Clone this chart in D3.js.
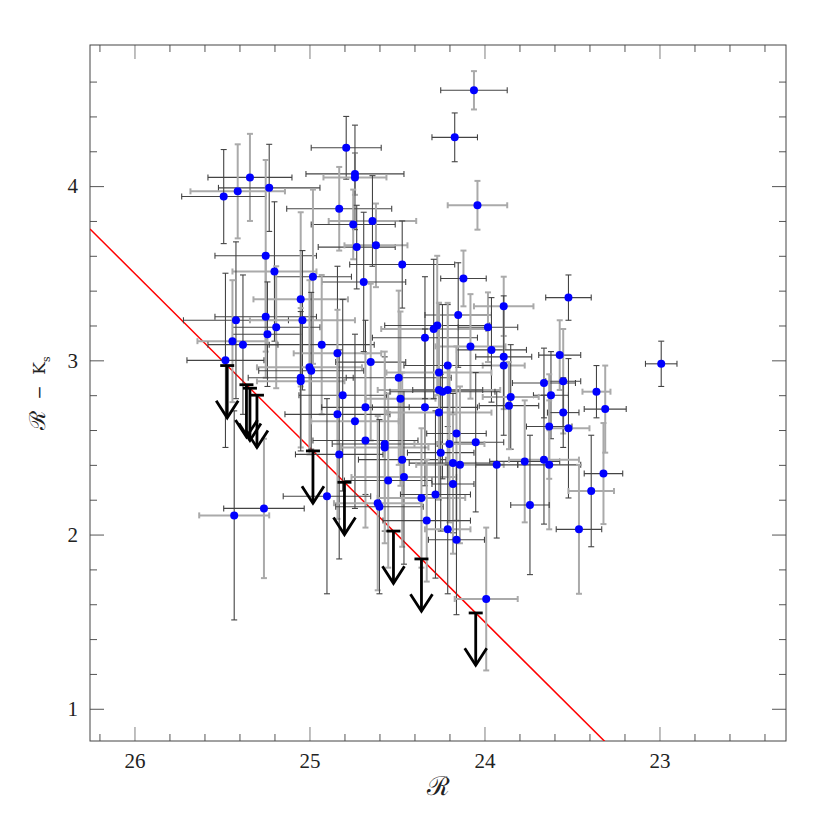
<!DOCTYPE html>
<html>
<head>
<meta charset="utf-8">
<title>R - Ks colour magnitude</title>
<style>
    body { margin: 0; background: #fff; }
    .axis path { display: none; }
    .axis line { stroke: #555; stroke-width: 1px; }
    .axis.light line { stroke: #aaa; stroke-width: 1.5px; }
    .axis text { font-family: 'Liberation Serif', 'DejaVu Serif', serif; font-size: 21px; fill: #222; }
    .title { font-family: 'DejaVu Serif', serif; fill: #222; }
</style>
</head>
<body>
<script src="https://d3js.org/d3.v7.min.js"></script>
<script type="text/javascript">

// detections: R magnitude, R-Ks colour, and their errors
var rMag = [24.06, 24.17, 24.04, 24.79, 24.74, 24.74, 25.34, 25.23, 25.41, 25.49,
            24.83, 24.64, 24.75, 24.73, 24.62, 24.47, 25.25, 25.20, 24.98, 24.69,
            25.05, 25.42, 25.25, 25.04, 25.19, 25.24, 25.44, 25.38, 24.93, 24.84,
            24.65, 25.48, 25.00, 24.99, 25.05, 25.05, 24.49, 24.81, 24.48, 24.68,
            24.84, 24.74, 24.68, 24.57, 24.57, 24.83, 24.47, 24.46, 24.55, 24.90,
            24.61, 24.60, 25.26, 25.43, 24.12, 23.52, 23.89, 24.15, 24.27, 24.29,
            23.98, 24.34, 24.08, 23.96, 23.89, 23.89, 23.57, 24.21, 24.26, 23.66,
            23.55, 23.36, 23.31, 23.62, 24.26, 24.24, 24.21, 23.85, 23.86, 24.34,
            24.26, 23.55, 23.63, 23.52, 24.16, 24.05, 24.20, 24.25, 23.77, 23.66,
            23.63, 24.18, 24.14, 23.93, 23.32, 23.39, 24.18, 24.28, 24.36, 23.74,
            24.33, 24.21, 23.46, 24.16, 23.99, 22.99];
var rkCol = [4.55, 4.28, 3.89, 4.22, 4.07, 4.05, 4.05, 3.99, 3.97, 3.94,
             3.87, 3.80, 3.78, 3.65, 3.66, 3.55, 3.60, 3.51, 3.48, 3.45,
             3.35, 3.23, 3.25, 3.23, 3.19, 3.15, 3.11, 3.09, 3.09, 3.04,
             2.99, 3.00, 2.96, 2.94, 2.90, 2.88, 2.90, 2.80, 2.78, 2.73,
             2.69, 2.65, 2.54, 2.52, 2.50, 2.46, 2.43, 2.33, 2.31, 2.22,
             2.18, 2.16, 2.15, 2.11, 3.47, 3.36, 3.31, 3.26, 3.20, 3.18,
             3.19, 3.13, 3.08, 3.06, 3.02, 2.97, 3.03, 2.97, 2.93, 2.87,
             2.88, 2.82, 2.72, 2.80, 2.83, 2.82, 2.83, 2.79, 2.74, 2.73,
             2.70, 2.70, 2.62, 2.61, 2.58, 2.53, 2.52, 2.47, 2.42, 2.43,
             2.40, 2.41, 2.40, 2.40, 2.35, 2.25, 2.29, 2.23, 2.21, 2.17,
             2.08, 2.03, 2.03, 1.97, 1.63, 2.98];
var rErr = [0.19, 0.13, 0.17, 0.20, 0.28, 0.18, 0.24, 0.29, 0.27, 0.24,
            0.30, 0.25, 0.24, 0.22, 0.18, 0.30, 0.29, 0.24, 0.22, 0.24,
            0.27, 0.30, 0.29, 0.30, 0.25, 0.20, 0.20, 0.20, 0.30, 0.25,
            0.20, 0.22, 0.30, 0.30, 0.30, 0.25, 0.30, 0.25, 0.20, 0.25,
            0.30, 0.25, 0.30, 0.30, 0.25, 0.25, 0.25, 0.30, 0.25, 0.25,
            0.25, 0.25, 0.23, 0.20, 0.13, 0.13, 0.17, 0.19, 0.30, 0.30,
            0.17, 0.30, 0.20, 0.20, 0.16, 0.12, 0.12, 0.25, 0.30, 0.18,
            0.10, 0.08, 0.12, 0.10, 0.35, 0.30, 0.20, 0.16, 0.17, 0.30,
            0.30, 0.09, 0.13, 0.12, 0.17, 0.16, 0.20, 0.19, 0.20, 0.20,
            0.18, 0.25, 0.25, 0.12, 0.11, 0.13, 0.12, 0.20, 0.25, 0.11,
            0.25, 0.13, 0.13, 0.16, 0.18, 0.09];
var colErr = [0.11, 0.14, 0.14, 0.18, 0.12, 0.30, 0.25, 0.25, 0.27, 0.27,
              0.24, 0.26, 0.20, 0.24, 0.24, 0.25, 0.55, 0.40, 0.50, 0.40,
              0.50, 0.45, 0.35, 0.40, 0.35, 0.30, 0.35, 0.40, 0.40, 0.50,
              0.45, 0.50, 0.50, 0.45, 0.40, 0.40, 0.50, 0.55, 0.50, 0.50,
              0.60, 0.50, 0.50, 0.50, 0.55, 0.60, 0.50, 0.50, 0.50, 0.56,
              0.50, 0.50, 0.40, 0.60, 0.16, 0.13, 0.17, 0.30, 0.40, 0.40,
              0.20, 0.35, 0.30, 0.30, 0.30, 0.40, 0.20, 0.35, 0.40, 0.20,
              0.30, 0.15, 0.25, 0.25, 0.50, 0.50, 0.50, 0.30, 0.25, 0.45,
              0.50, 0.20, 0.30, 0.40, 0.50, 0.40, 0.45, 0.45, 0.35, 0.37,
              0.37, 0.40, 0.45, 0.42, 0.29, 0.32, 0.40, 0.48, 0.40, 0.40,
              0.35, 0.37, 0.37, 0.43, 0.41, 0.13];

// Ks non-detections (upper limits on colour)
var limMag = [25.47, 25.36, 25.34, 25.30, 24.98, 24.80, 24.52, 24.36, 24.05];
var limCol = [2.97, 2.86, 2.84, 2.80, 2.48, 2.30, 2.02, 1.86, 1.55];
var limLen = 0.3;

// Ks detection limit line: R - Ks = R - 22.5
var ksLimit = 22.5;

var xTicks = [26, 25, 24, 23];
var yTicks = [1, 2, 3, 4];

var margin = {top: 45, right: 44, bottom: 89, left: 90},
    width  = 830 - margin.left - margin.right,
    height = 830 - margin.top - margin.bottom;

var x = d3.scaleLinear().domain([26.254, 22.277]).range([0, width]);
var y = d3.scaleLinear().domain([0.815, 4.81]).range([height, 0]);

var xMinor = d3.range(22.4, 26.21, 0.2).filter(function(v) { return Math.abs(v - Math.round(v)) > 0.01; });
var yMinor = d3.range(1.2, 4.79, 0.2).filter(function(v) { return Math.abs(v - Math.round(v)) > 0.01; });

var svg = d3.select("body")
    .append("svg")
    .attr("width", 830)
    .attr("height", 830);

var chart = svg.append("g")
    .attr("transform", "translate(" + margin.left + "," + margin.top + ")");

chart.append("clipPath")
    .attr("id", "plotClip")
    .append("rect")
    .attr("width", width)
    .attr("height", height);

// axes, ticks pointing inwards on all four sides
function addAxis(axis, tr, values, size, labels, cls) {
    return chart.append("g")
        .attr("class", "axis " + (cls || ""))
        .attr("transform", tr)
        .call(axis.tickValues(values).tickSizeInner(-size).tickSizeOuter(0)
              .tickPadding(labels ? 12 : 0)
              .tickFormat(labels ? d3.format("d") : ""));
}

addAxis(d3.axisBottom(x), "translate(0," + height + ")", xTicks, 14, true, "light");
addAxis(d3.axisBottom(x), "translate(0," + height + ")", xMinor, 7, false);
addAxis(d3.axisTop(x), "translate(0,0)", xTicks, 14, false, "light");
addAxis(d3.axisTop(x), "translate(0,0)", xMinor, 7, false);
addAxis(d3.axisLeft(y), "translate(0,0)", yTicks, 14, true);
addAxis(d3.axisLeft(y), "translate(0,0)", yMinor, 7, false);
addAxis(d3.axisRight(y), "translate(" + width + ",0)", yTicks, 14, false);
addAxis(d3.axisRight(y), "translate(" + width + ",0)", yMinor, 7, false);

chart.append("rect")
    .attr("width", width)
    .attr("height", height)
    .attr("fill", "none")
    .attr("stroke", "#444")
    .attr("stroke-width", 1);

var plot = chart.append("g").attr("clip-path", "url(#plotClip)");

// detection limit line
var lineR = [x.domain()[0], x.domain()[1]];
plot.append("line")
    .attr("x1", x(lineR[0])).attr("y1", y(lineR[0] - ksLimit))
    .attr("x2", x(lineR[1])).attr("y2", y(lineR[1] - ksLimit))
    .attr("stroke", "red")
    .attr("stroke-width", 1.5);

// error bars
var cap = 3;
var idx = d3.range(rMag.length);
var bars = plot.append("g");

idx.forEach(function(i) {
    var cx = x(rMag[i]), cy = y(rkCol[i]);
    var xl = x(rMag[i] + rErr[i]), xr = x(rMag[i] - rErr[i]);
    var yt = y(rkCol[i] + colErr[i]), yb = y(rkCol[i] - colErr[i]);
    var xs = (i % 3 === 2) ? {c: "#aaa", w: 2} : {c: "#444", w: 1.1};
    var ys = (i % 2 === 0) ? {c: "#aaa", w: 2} : {c: "#444", w: 1.1};
    var gx = bars.append("g").attr("stroke", xs.c).attr("stroke-width", xs.w);
    gx.append("line").attr("x1", xl).attr("x2", xr).attr("y1", cy).attr("y2", cy);
    gx.append("line").attr("x1", xl).attr("x2", xl).attr("y1", cy - cap).attr("y2", cy + cap);
    gx.append("line").attr("x1", xr).attr("x2", xr).attr("y1", cy - cap).attr("y2", cy + cap);
    var gy = bars.append("g").attr("stroke", ys.c).attr("stroke-width", ys.w);
    gy.append("line").attr("x1", cx).attr("x2", cx).attr("y1", yt).attr("y2", yb);
    gy.append("line").attr("x1", cx - cap).attr("x2", cx + cap).attr("y1", yt).attr("y2", yt);
    gy.append("line").attr("x1", cx - cap).attr("x2", cx + cap).attr("y1", yb).attr("y2", yb);
});

// points
plot.append("g")
    .selectAll("circle")
    .data(idx)
    .enter()
    .append("circle")
    .attr("cx", function(i) { return x(rMag[i]); })
    .attr("cy", function(i) { return y(rkCol[i]); })
    .attr("r", 4)
    .attr("fill", "blue");

// upper limit arrows
var arrows = plot.append("g")
    .attr("stroke", "black")
    .attr("stroke-width", 2.8)
    .attr("fill", "none");

limMag.forEach(function(m, i) {
    var ax = x(m), top = y(limCol[i]), tip = y(limCol[i] - limLen);
    arrows.append("line").attr("x1", ax - 7).attr("x2", ax + 7).attr("y1", top).attr("y2", top);
    arrows.append("line").attr("x1", ax).attr("x2", ax).attr("y1", top).attr("y2", tip);
    arrows.append("path")
        .attr("d", "M" + (ax - 11) + "," + (tip - 17) + "L" + ax + "," + tip + "L" + (ax + 11) + "," + (tip - 17));
});

// axis titles
svg.append("text")
    .attr("class", "title")
    .attr("x", margin.left + width / 2)
    .attr("y", 795)
    .attr("font-size", "26px")
    .attr("text-anchor", "middle")
    .text("ℛ");

var yTitle = svg.append("text")
    .attr("class", "title")
    .attr("font-size", "17px")
    .attr("transform", "translate(45," + (margin.top + height / 2) + ") rotate(-90)")
    .attr("text-anchor", "middle");
yTitle.append("tspan").attr("font-size", "22px").text("ℛ");
yTitle.append("tspan").text("\u00a0\u00a0\u2212\u00a0\u00a0K");
yTitle.append("tspan").attr("font-size", "11px").attr("dy", 5).text("s");

</script>
</body>
</html>
